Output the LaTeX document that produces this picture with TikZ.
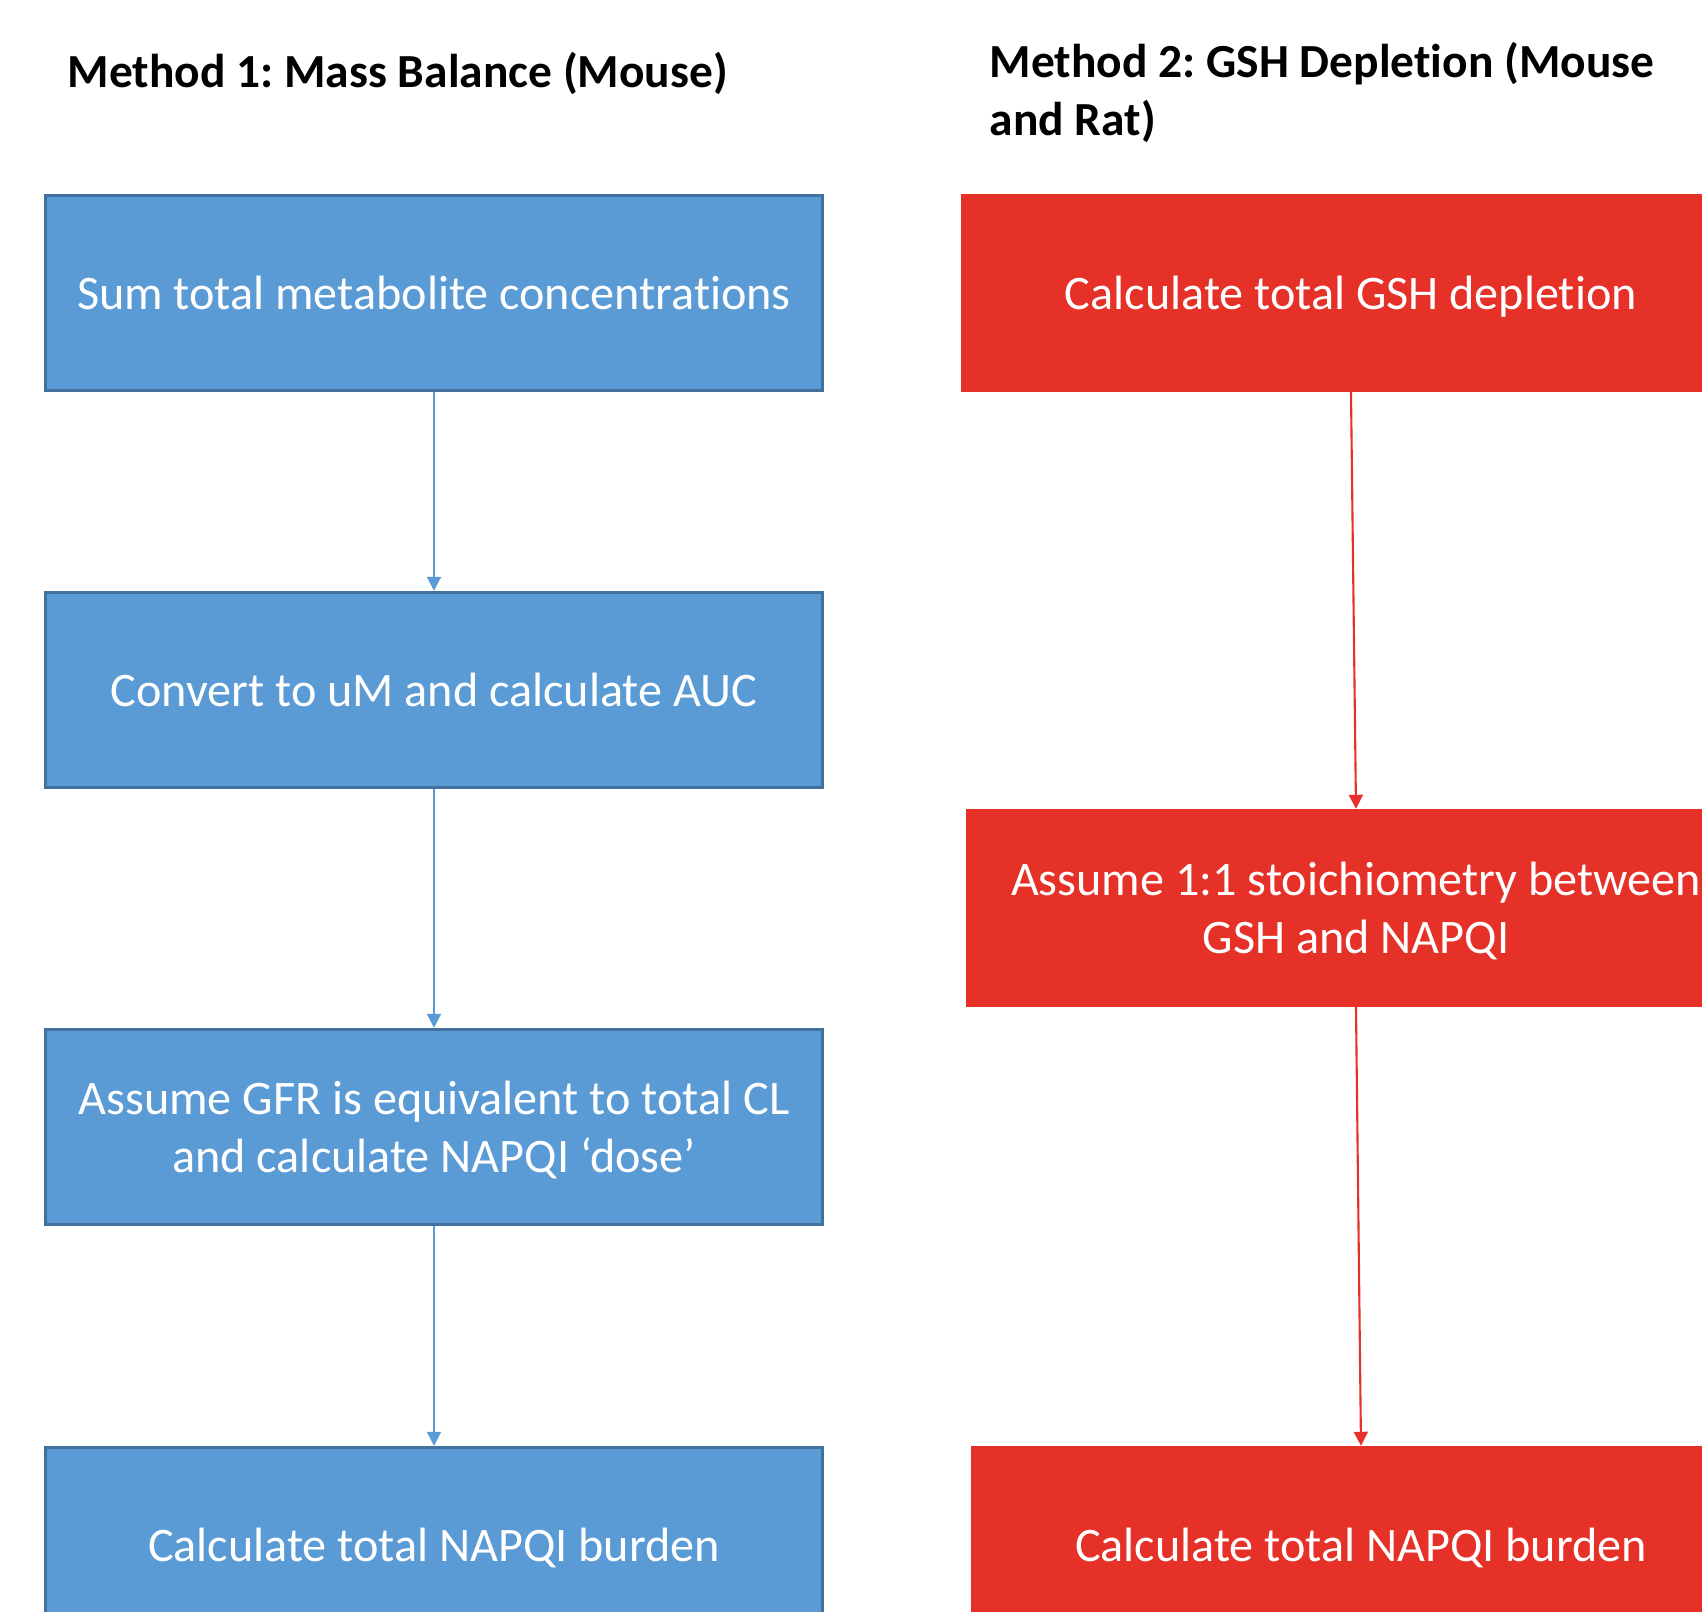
\documentclass[tikz,border=0pt]{standalone}
\usepackage{fontspec}
\setmainfont{Carlito}[Ligatures=NoCommon]
\usetikzlibrary{arrows.meta}
\frenchspacing

\definecolor{stepblue}{HTML}{5B9BD5}
\definecolor{stepblueedge}{HTML}{41719C}
\definecolor{stepred}{HTML}{E53128}

\tikzset{
  bluebox/.style={draw=stepblueedge, line width=0.8pt, fill=stepblue, text=white,
    minimum width=7.76cm, minimum height=1.955cm, inner sep=0pt, align=center,
    text depth=0pt, font=\fontsize{13.7}{16.4}\selectfont},
  redbox/.style={bluebox, draw=stepred, fill=stepred},
  heading/.style={anchor=west, align=left, inner sep=0pt,
    font=\fontsize{13.5}{16.5}\selectfont\bfseries},
  blueflow/.style={->, draw=stepblue, line width=0.6pt},
  redflow/.style={->, draw=stepred, line width=0.6pt}
}

\begin{document}
\begin{tikzpicture}[x=0.01cm, y=-0.01cm, >={Triangle[width=0.14cm,length=0.14cm]}]
  \useasboundingbox (0,0) rectangle (1702,1612);
  % headings
  \node[heading] (head1) at (67,73) {Method 1: Mass Balance (Mouse)};
  \node[heading] (head2) at (989,92) {Method 2: GSH Depletion (Mouse\\and Rat)};
  % method 1: mass balance
  \node[bluebox] (m1a) at (434,293) {Sum total metabolite concentrations};
  \node[bluebox] (m1b) at (434,690) {Convert to uM and calculate AUC};
  \node[bluebox] (m1c) at (434,1127) {Assume GFR is equivalent to total CL\\and calculate NAPQI ‘dose’};
  \node[bluebox] (m1d) at (434,1545) {Calculate total NAPQI burden};
  \draw[blueflow] (m1a) -- (m1b);
  \draw[blueflow] (m1b) -- (m1c);
  \draw[blueflow] (m1c) -- (m1d);
  % method 2: GSH depletion
  \node[redbox] (m2a) at (1351,293) {Calculate total GSH depletion};
  \node[redbox] (m2b) at (1356,908) {Assume 1:1 stoichiometry between\\GSH and NAPQI};
  \node[redbox] (m2c) at (1361,1545) {Calculate total NAPQI burden};
  \draw[redflow] (m2a.south) -- (m2b.north);
  \draw[redflow] (m2b.south) -- (m2c.north);
\end{tikzpicture}
\end{document}
